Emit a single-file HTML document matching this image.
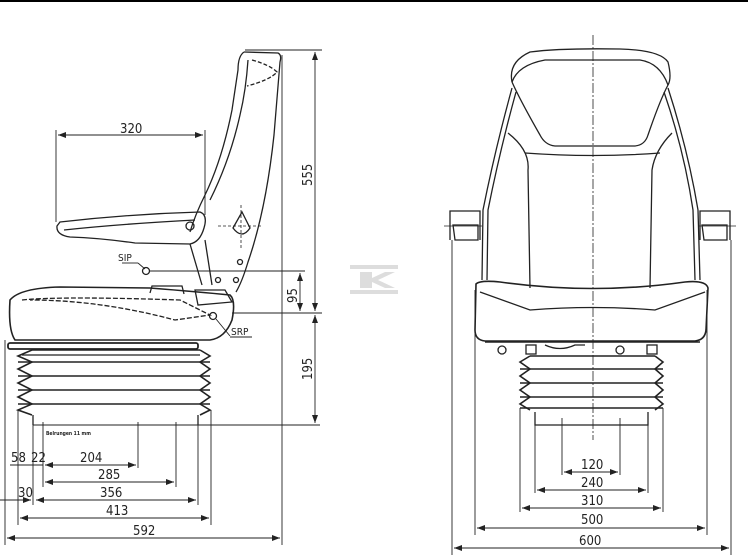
<!DOCTYPE html>
<html><head><meta charset="utf-8"><style>
html,body{margin:0;padding:0;background:#fff}
svg{display:block}
text{font-family:"DejaVu Sans Condensed","Liberation Sans",sans-serif;font-size:13px;fill:#222}
</style></head><body>
<svg width="748" height="560" viewBox="0 0 748 560" xmlns="http://www.w3.org/2000/svg">
<defs>
<marker id="a" markerWidth="8" markerHeight="6" refX="8" refY="3" orient="auto-start-reverse" markerUnits="userSpaceOnUse"><path d="M0,0 L8,3 L0,6 z" fill="#222"/></marker>
</defs>
<line x1="0" y1="1" x2="748" y2="1" stroke="#000" stroke-width="2"/>
<g fill="none" stroke="#222" stroke-width="1.3">
<path d="M244,52 L278,53 Q282,55 280,62 L274,135 Q266,210 248,262 Q242,282 236,292"/>
<path d="M244,52 Q238,56 238,70 L232,110 Q222,160 205,195 Q195,215 190,232"/>
<path d="M248,60 Q246,90 240,115 Q230,160 210,200"/>
<path d="M252,60 Q270,65 277,72 Q270,80 247,86" stroke-dasharray="4,2"/>
<path d="M60,222 Q130,214 200,212 Q208,215 204,228 Q200,242 190,244 L135,243 Q100,238 70,237 Q56,235 57,226 Z"/>
<path d="M64,230 Q120,224 195,220"/>
<circle cx="190" cy="226" r="4"/>
<path d="M233,228 L242,212 L250,228 Q242,240 233,228 Z"/>
<line x1="218" y1="226" x2="262" y2="226" stroke-dasharray="3,2" stroke-width="0.8"/>
<line x1="241" y1="205" x2="241" y2="248" stroke-dasharray="3,2" stroke-width="0.8"/>
<path d="M190,244 L202,285 M205,240 L212,285"/>
<circle cx="146" cy="271" r="3.5"/>
<line x1="150" y1="271" x2="305" y2="271" stroke-width="0.9"/>
<circle cx="240" cy="262" r="2.5"/><circle cx="218" cy="280" r="2.5"/><circle cx="236" cy="280" r="2.5"/>
<path d="M10,300 Q20,288 60,287 L150,288 Q200,292 230,295 Q236,300 232,320 Q225,338 210,340 L15,340 Q8,330 10,300 Z" stroke-width="1.6"/>
<path d="M22,300 Q60,296 180,300 Q200,310 210,315 L175,320 Q100,300 30,300" stroke-dasharray="5,2"/>
<path d="M150,293 L152,286 L182,286 L184,294"/>
<path d="M195,290 L225,290 L232,302 L198,305 Z"/>
<circle cx="213" cy="316" r="3.5"/>
<line x1="216" y1="319" x2="230" y2="336" stroke-width="0.9"/>
<line x1="230" y1="337" x2="252" y2="337" stroke-width="0.9"/>
<line x1="122" y1="263" x2="138" y2="263" stroke-width="0.9"/><line x1="138" y1="263" x2="145" y2="269" stroke-width="0.9"/>
<rect x="8" y="343" width="190" height="6" rx="2" stroke-width="1.8"/>
<path d="M32,350 L200,350 M18,362 L210,362 M18,376 L210,376 M18,390 L210,390 M18,404 L210,404" stroke-width="1.6"/>
<path d="M32,350 L18,356 L32,362 L18,369 L32,376 L18,383 L32,390 L18,397 L32,404 L18,410 L32,415" stroke-width="1.6"/>
<path d="M200,350 L210,356 L200,362 L210,369 L200,376 L210,383 L200,390 L210,397 L200,404 L210,410 L200,415" stroke-width="1.6"/>
<path d="M33,415 L33,425 M198,415 L198,425 M22,355 L200,355"/>
<line x1="33" y1="425" x2="320" y2="425" stroke-width="1"/>
<line x1="245" y1="50" x2="322" y2="50" stroke-width="0.9"/>
<line x1="282" y1="55" x2="282" y2="545" stroke-width="0.9"/>
<line x1="232" y1="313" x2="322" y2="313" stroke-width="0.9"/>
<line x1="315" y1="52" x2="315" y2="311" marker-start="url(#a)" marker-end="url(#a)" stroke-width="0.9"/>
<line x1="300" y1="273" x2="300" y2="311" marker-start="url(#a)" marker-end="url(#a)" stroke-width="0.9"/>
<line x1="315" y1="315" x2="315" y2="423" marker-start="url(#a)" marker-end="url(#a)" stroke-width="0.9"/>
<line x1="56" y1="130" x2="56" y2="222" stroke-width="0.9"/>
<line x1="205" y1="130" x2="205" y2="215" stroke-width="0.9"/>
<line x1="58" y1="135" x2="203" y2="135" marker-start="url(#a)" marker-end="url(#a)" stroke-width="0.9"/>
<g stroke-width="0.9">
<line x1="5" y1="340" x2="5" y2="545"/>
<line x1="18" y1="410" x2="18" y2="525"/>
<line x1="33" y1="425" x2="33" y2="505"/>
<line x1="43" y1="422" x2="43" y2="487"/>
<line x1="138" y1="422" x2="138" y2="468"/>
<line x1="176" y1="422" x2="176" y2="487"/>
<line x1="198" y1="425" x2="198" y2="505"/>
<line x1="211" y1="410" x2="211" y2="525"/>
<line x1="45" y1="465" x2="136" y2="465" marker-start="url(#a)" marker-end="url(#a)"/>
<line x1="10" y1="465" x2="43" y2="465"/>
<line x1="45" y1="482" x2="174" y2="482" marker-start="url(#a)" marker-end="url(#a)"/>
<line x1="0" y1="500" x2="31" y2="500" marker-end="url(#a)"/>
<line x1="36" y1="500" x2="196" y2="500" marker-start="url(#a)" marker-end="url(#a)"/>
<line x1="20" y1="518" x2="209" y2="518" marker-start="url(#a)" marker-end="url(#a)"/>
<line x1="7" y1="538" x2="280" y2="538" marker-start="url(#a)" marker-end="url(#a)"/>
</g>
<line x1="593" y1="35" x2="593" y2="440" stroke-dasharray="10,2,2,2" stroke-width="0.8"/>
<path d="M512,82 Q508,62 530,52 Q560,48 620,49 Q660,50 668,62 Q672,78 668,85"/>
<path d="M512,82 Q518,65 545,60 L640,60 Q660,63 668,85"/>
<path d="M512,82 Q520,100 540,135 Q545,145 555,146 L635,146 Q645,145 648,135 Q660,100 668,85"/>
<path d="M512,88 Q495,150 483,210 L482,280"/>
<path d="M516,92 Q500,150 488,210 L487,280"/>
<path d="M668,88 Q688,150 698,210 L700,280"/>
<path d="M664,92 Q684,150 693,210 L695,280"/>
<path d="M508,133 Q530,150 528,170 L530,288"/>
<path d="M672,133 Q655,150 652,170 L650,288"/>
<path d="M525,153 Q593,158 660,153"/>
<path d="M450,240 L450,211 L480,211 L480,240"/>
<path d="M453,225 L478,225 L478,240 L455,240 Z"/>
<path d="M730,240 L730,211 L700,211 L700,240"/>
<path d="M702,225 L727,225 L727,240 L704,240 Z"/>
<line x1="444" y1="226" x2="482" y2="226" stroke-width="0.8"/>
<line x1="698" y1="226" x2="736" y2="226" stroke-width="0.8"/>
<path d="M476,284 Q480,280 500,282 Q593,295 685,282 Q706,280 708,288 L706,330 Q705,340 695,341 L485,341 Q475,340 475,330 Z" stroke-width="1.6"/>
<path d="M480,292 L530,310 Q593,305 655,310 L705,292"/>
<path d="M485,342 L700,342" stroke-width="1.6"/>
<circle cx="502" cy="350" r="4"/><rect x="526" y="345" width="10" height="9"/><circle cx="620" cy="350" r="4"/><rect x="647" y="345" width="10" height="9"/>
<path d="M545,345 Q560,352 575,345 L585,345"/>
<path d="M530,356 L655,356 M520,369 L663,369 M520,383 L663,383 M520,397 L663,397 M520,408 L663,408" stroke-width="1.6"/>
<path d="M530,356 L520,362 L530,369 L520,376 L530,383 L520,390 L530,397 L520,404 L530,410" stroke-width="1.6"/>
<path d="M655,356 L663,362 L655,369 L663,376 L655,383 L663,390 L655,397 L663,404 L655,410" stroke-width="1.6"/>
<path d="M535,412 L535,425 L648,425 L648,412"/>
<g stroke-width="0.9">
<line x1="562" y1="418" x2="562" y2="475"/>
<line x1="620" y1="418" x2="620" y2="475"/>
<line x1="535" y1="425" x2="535" y2="493"/>
<line x1="648" y1="425" x2="648" y2="493"/>
<line x1="520" y1="408" x2="520" y2="512"/>
<line x1="663" y1="408" x2="663" y2="512"/>
<line x1="475" y1="290" x2="475" y2="535"/>
<line x1="707" y1="290" x2="707" y2="535"/>
<line x1="452" y1="240" x2="452" y2="555"/>
<line x1="731" y1="240" x2="731" y2="555"/>
<line x1="564" y1="472" x2="618" y2="472" marker-start="url(#a)" marker-end="url(#a)"/>
<line x1="537" y1="490" x2="646" y2="490" marker-start="url(#a)" marker-end="url(#a)"/>
<line x1="522" y1="508" x2="661" y2="508" marker-start="url(#a)" marker-end="url(#a)"/>
<line x1="477" y1="528" x2="705" y2="528" marker-start="url(#a)" marker-end="url(#a)"/>
<line x1="454" y1="548" x2="729" y2="548" marker-start="url(#a)" marker-end="url(#a)"/>
</g>
</g>
<g fill="#ddd"><rect x="350" y="265" width="48" height="4"/><rect x="350" y="290" width="48" height="4"/><path d="M360,272 L372,272 L372,278 L385,272 L395,272 L378,280 L395,288 L385,288 L372,282 L372,288 L360,288 Z"/></g>
<text x="120" y="133">320</text>
<text x="118" y="261" style="font-size:10px">SIP</text>
<text x="231" y="335" style="font-size:10px">SRP</text>
<text transform="translate(312,186) rotate(-90)">555</text>
<text transform="translate(297,303) rotate(-90)">95</text>
<text transform="translate(312,380) rotate(-90)">195</text>
<text x="46" y="435" style="font-size:5px;font-weight:bold">Belrungen 11 mm</text>
<text x="11" y="462">58</text><text x="31" y="462">22</text>
<text x="80" y="462">204</text>
<text x="98" y="479">285</text>
<text x="18" y="497">30</text>
<text x="100" y="497">356</text>
<text x="106" y="515">413</text>
<text x="133" y="535">592</text>
<text x="581" y="469">120</text>
<text x="581" y="487">240</text>
<text x="581" y="505">310</text>
<text x="581" y="524">500</text>
<text x="579" y="545">600</text>
</svg>
</body></html>
